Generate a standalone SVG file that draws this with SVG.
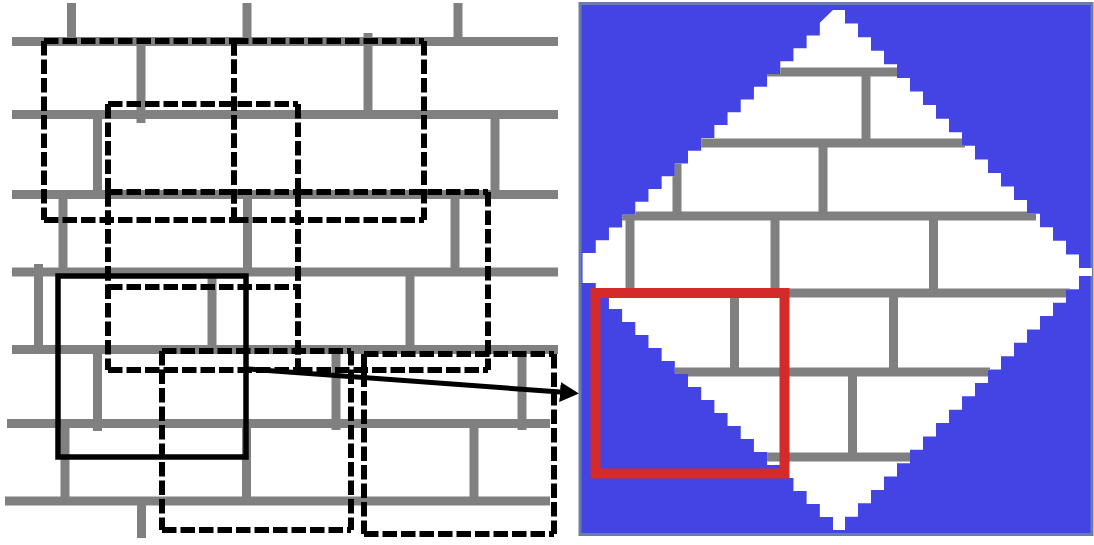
<svg xmlns="http://www.w3.org/2000/svg" width="1094" height="545" viewBox="0 0 1094 545">
<style>
.m{stroke:#808080;stroke-width:9;fill:none}
.d{fill:none;stroke:#000;stroke-width:6;stroke-dasharray:14.5 4}
.s{fill:none;stroke:#000;stroke-width:5.5}
.c{stroke:#000;stroke-width:5;fill:none}
</style>
<defs>
<path id="dia" d="M833,10H845v13.58h13v13.58h13v13.58h13v13.58h13v13.58h13v13.58h13v13.58h13v13.58h13v13.58h13v13.58h13v13.58h13v13.58h13v13.58h13v13.58h13v13.58h13v13.58h13v13.58h13v13.58h13v13.58h13V276h-13v13.37h-13v13.37h-13v13.37h-13v13.37h-13v13.37h-13v13.37h-13v13.37h-13v13.37h-13v13.37h-13v13.37h-13v13.37h-13v13.37h-13v13.37h-13v13.37h-13v13.37h-13v13.37h-13v13.37h-13v13.37h-13v13.37H833v-13h-13.18v-13h-13.18v-13h-13.18v-13h-13.18v-13h-13.18v-13h-13.18v-13h-13.18v-13h-13.18v-13h-13.18v-13h-13.18v-13h-13.18v-13h-13.18v-13h-13.18v-13h-13.18v-13h-13.18v-13h-13.18v-13h-13.18v-13h-13.18v-13h-13.18V253h13.18v-12.79h13.18v-12.79h13.18v-12.79h13.18v-12.79h13.18v-12.79h13.18v-12.79h13.18v-12.79h13.18v-12.79h13.18v-12.79h13.18v-12.79h13.18v-12.79h13.18v-12.79h13.18v-12.79h13.18v-12.79h13.18v-12.79h13.18v-12.79h13.18v-12.79h13.18v-12.79Z"/>
<clipPath id="clipDia"><use href="#dia"/></clipPath>
<marker id="ah" markerUnits="userSpaceOnUse" markerWidth="20" markerHeight="20" refX="0" refY="9.5" orient="auto" viewBox="0 0 19 19"><path d="M0,0L18,9.5L0,19Z" fill="#000"/></marker>
</defs>

<g id="wall-left">
<line class="m" x1="12" y1="41.5" x2="558" y2="41.5"/>
<line class="m" x1="12" y1="114.5" x2="558" y2="114.5"/>
<line class="m" x1="12" y1="194.5" x2="558" y2="194.5"/>
<line class="m" x1="12" y1="272" x2="558" y2="272"/>
<line class="m" x1="12" y1="349.5" x2="558" y2="349.5"/>
<line class="m" x1="7" y1="423.5" x2="550" y2="423.5"/>
<line class="m" x1="5" y1="501" x2="550" y2="501"/>
<line class="m" x1="71.5" y1="3" x2="71.5" y2="41"/>
<line class="m" x1="247" y1="3" x2="247" y2="41"/>
<line class="m" x1="458" y1="3" x2="458" y2="41"/>
<line class="m" x1="141" y1="41" x2="141" y2="123"/>
<line class="m" x1="368" y1="33" x2="368" y2="114"/>
<line class="m" x1="97.5" y1="114" x2="97.5" y2="194"/>
<line class="m" x1="495" y1="114" x2="495" y2="194"/>
<line class="m" x1="63" y1="194" x2="63" y2="272"/>
<line class="m" x1="247.5" y1="194" x2="247.5" y2="272"/>
<line class="m" x1="455" y1="194" x2="455" y2="272"/>
<line class="m" x1="38.5" y1="264" x2="38.5" y2="350"/>
<line class="m" x1="212" y1="272" x2="212" y2="350"/>
<line class="m" x1="410" y1="272" x2="410" y2="350"/>
<line class="m" x1="97.5" y1="349" x2="97.5" y2="431"/>
<line class="m" x1="336" y1="349" x2="336" y2="430"/>
<line class="m" x1="522" y1="349" x2="522" y2="430"/>
<line class="m" x1="65" y1="423" x2="65" y2="501"/>
<line class="m" x1="246.5" y1="423" x2="246.5" y2="501"/>
<line class="m" x1="474" y1="423" x2="474" y2="501"/>
<line class="m" x1="141.5" y1="501" x2="141.5" y2="538"/>
</g>

<g id="box1"><path class="d" d="M44,41H234M44,220H234M44,41V220M234,41V220"/></g>
<g id="box2"><path class="d" d="M234,41H424M234,220H424M234,41V220M424,41V220"/></g>
<g id="box3"><path class="d" d="M108,104H298M108,287H298M108,104V192M108,192V287M298,104V192M298,192V287"/></g>
<g id="box4"><path class="d" d="M108,192H298M108,370H298M108,192V370M298,192V370"/></g>
<g id="box5"><path class="d" d="M298,192H488M298,370H488M298,192V370M488,192V370"/></g>
<g id="box6"><path class="d" d="M162,351H351M162,530H351M162,351V530M351,351V530"/></g>
<g id="box7"><path class="d" d="M364,354H554M364,534H554M364,354V534M554,354V534"/></g>
<g id="box-solid"><rect class="s" x="58" y="276" width="188" height="181"/></g>

<g id="panel-right">
<rect x="580" y="3.5" width="512" height="531" fill="#4444e4" stroke="#6a7ca8" stroke-width="3"/>
<use href="#dia" fill="#ffffff"/>
<g clip-path="url(#clipDia)">
<line class="m" x1="580" y1="72" x2="1093" y2="72"/>
<line class="m" x1="580" y1="143" x2="965" y2="143"/>
<line class="m" x1="580" y1="216" x2="1036" y2="216"/>
<line class="m" x1="580" y1="293" x2="1070" y2="293"/>
<line class="m" x1="580" y1="372" x2="990" y2="372"/>
<line class="m" x1="580" y1="457" x2="917" y2="457"/>
<line class="m" x1="866" y1="72" x2="866" y2="143"/>
<line class="m" x1="677" y1="143" x2="677" y2="216"/>
<line class="m" x1="823" y1="143" x2="823" y2="216"/>
<line class="m" x1="630" y1="216" x2="630" y2="293"/>
<line class="m" x1="775" y1="216" x2="775" y2="293"/>
<line class="m" x1="933.5" y1="216" x2="933.5" y2="293"/>
<line class="m" x1="734.5" y1="293" x2="734.5" y2="372"/>
<line class="m" x1="893.5" y1="293" x2="893.5" y2="372"/>
<line class="m" x1="852.5" y1="372" x2="852.5" y2="457"/>
</g>
<rect x="595.5" y="293" width="189" height="180.5" fill="none" stroke="#d42a2a" stroke-width="10"/>
</g>

<g id="connectors">
<line class="c" x1="248" y1="369" x2="560" y2="392" marker-end="url(#ah)"/>
</g>
</svg>
